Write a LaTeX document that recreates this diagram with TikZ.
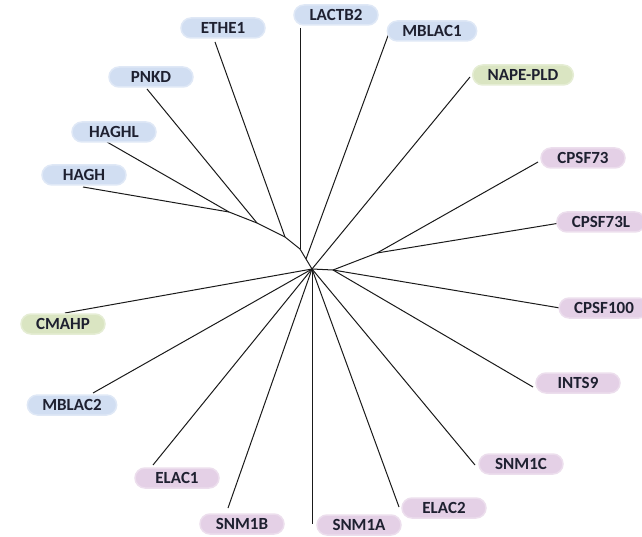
\documentclass[tikz,border=0pt]{standalone}
\usepackage{fontspec}
\setmainfont{Carlito}
\usepackage{xcolor}
\usetikzlibrary{calc,positioning}

\definecolor{bluefill}{HTML}{D1DEF2}
\definecolor{greenfill}{HTML}{DAE5C2}
\definecolor{pinkfill}{HTML}{E4D0E6}
\definecolor{labeltext}{HTML}{1E2030}
\definecolor{branchcol}{HTML}{1A1A1A}

\tikzset{
  pill/.style={rounded corners=10pt, minimum width=84pt, minimum height=20pt,
    inner xsep=15pt, inner ysep=1pt, text=labeltext,
    font=\fontsize{17}{17}\selectfont\bfseries},
  bluebox/.style={pill, fill=bluefill, draw=bluefill!70, line width=1.5pt},
  greenbox/.style={pill, fill=greenfill, draw=greenfill!70, line width=1.5pt},
  pinkbox/.style={pill, fill=pinkfill, draw=pinkfill!70, line width=1.5pt},
  branch/.style={draw=branchcol, line width=1pt}
}

\begin{document}
\begin{tikzpicture}[x=1pt,y=-1pt]
\useasboundingbox (0,0) rectangle (642,537);
\coordinate (c) at (312,269);
\coordinate (h1) at (229,212);
\coordinate (h2) at (257,223);
\coordinate (h3) at (285,237);
\coordinate (h4) at (300,249);
\coordinate (h5) at (306,259);
\coordinate (r1) at (333,270);
\coordinate (r2) at (377,253);
\coordinate (tHAGH) at (83,187);
\coordinate (tHAGHL) at (107,142);
\coordinate (tPNKD) at (147,89);
\coordinate (tETHE1) at (215,42);
\coordinate (tLACTB2) at (300,28);
\coordinate (tMBLAC1) at (389,33);
\coordinate (tNAPE) at (470,77);
\coordinate (tCPSF73) at (538,162);
\coordinate (tCPSF73L) at (560,223);
\coordinate (tCPSF100) at (560,308);
\coordinate (tINTS9) at (533,387);
\coordinate (tSNM1C) at (475,465);
\coordinate (tELAC2) at (399,507);
\coordinate (tSNM1A) at (312,524);
\coordinate (tSNM1B) at (228,508);
\coordinate (tELAC1) at (153,465);
\coordinate (tMBLAC2) at (93,393);
\coordinate (tCMAHP) at (65,313);

\draw[branch] (tHAGHL)--(h1)--(h2)--(h3)--(h4)--(h5)--(c);
\draw[branch] (tHAGH)--(h1);
\draw[branch] (tPNKD)--(h2);
\draw[branch] (tETHE1)--(h3);
\draw[branch] (tLACTB2)--(h4);
\draw[branch] (tMBLAC1)--(h5);
\draw[branch] (tNAPE)--(c);
\draw[branch] (c)--(r1)--(r2)--(tCPSF73);
\draw[branch] (r2)--(tCPSF73L);
\draw[branch] (r1)--(tCPSF100);
\draw[branch] (r1)--(tINTS9);
\draw[branch] (c)--(tSNM1C);
\draw[branch] (c)--(tELAC2);
\draw[branch] (c)--(tSNM1A);
\draw[branch] (c)--(tSNM1B);
\draw[branch] (c)--(tELAC1);
\draw[branch] (c)--(tMBLAC2);
\draw[branch] (c)--(tCMAHP);

\node[bluebox] (HAGH) at (84,175) {HAGH};
\node[bluebox] (HAGHL) at (114,132) {HAGHL};
\node[bluebox] (PNKD) at (151,77) {PNKD};
\node[bluebox] (ETHE1) at (223,28) {ETHE1};
\node[bluebox] (LACTB2) at (336,15) {LACTB2};
\node[bluebox] (MBLAC1) at (432,31) {MBLAC1};
\node[greenbox] (NAPE) at (523,75) {NAPE-PLD};
\node[pinkbox] (CPSF73) at (583,158) {CPSF73};
\node[pinkbox] (CPSF73L) at (601,222) {CPSF73L};
\node[pinkbox] (CPSF100) at (604,308) {CPSF100};
\node[pinkbox] (INTS9) at (578,383) {INTS9};
\node[pinkbox] (SNM1C) at (521,464) {SNM1C};
\node[pinkbox] (ELAC2) at (444,508) {ELAC2};
\node[pinkbox] (SNM1A) at (359,525) {SNM1A};
\node[pinkbox] (SNM1B) at (242,524) {SNM1B};
\node[pinkbox] (ELAC1) at (177,478) {ELAC1};
\node[bluebox] (MBLAC2) at (72,405) {MBLAC2};
\node[greenbox] (CMAHP) at (63,324) {CMAHP};
\end{tikzpicture}
\end{document}
